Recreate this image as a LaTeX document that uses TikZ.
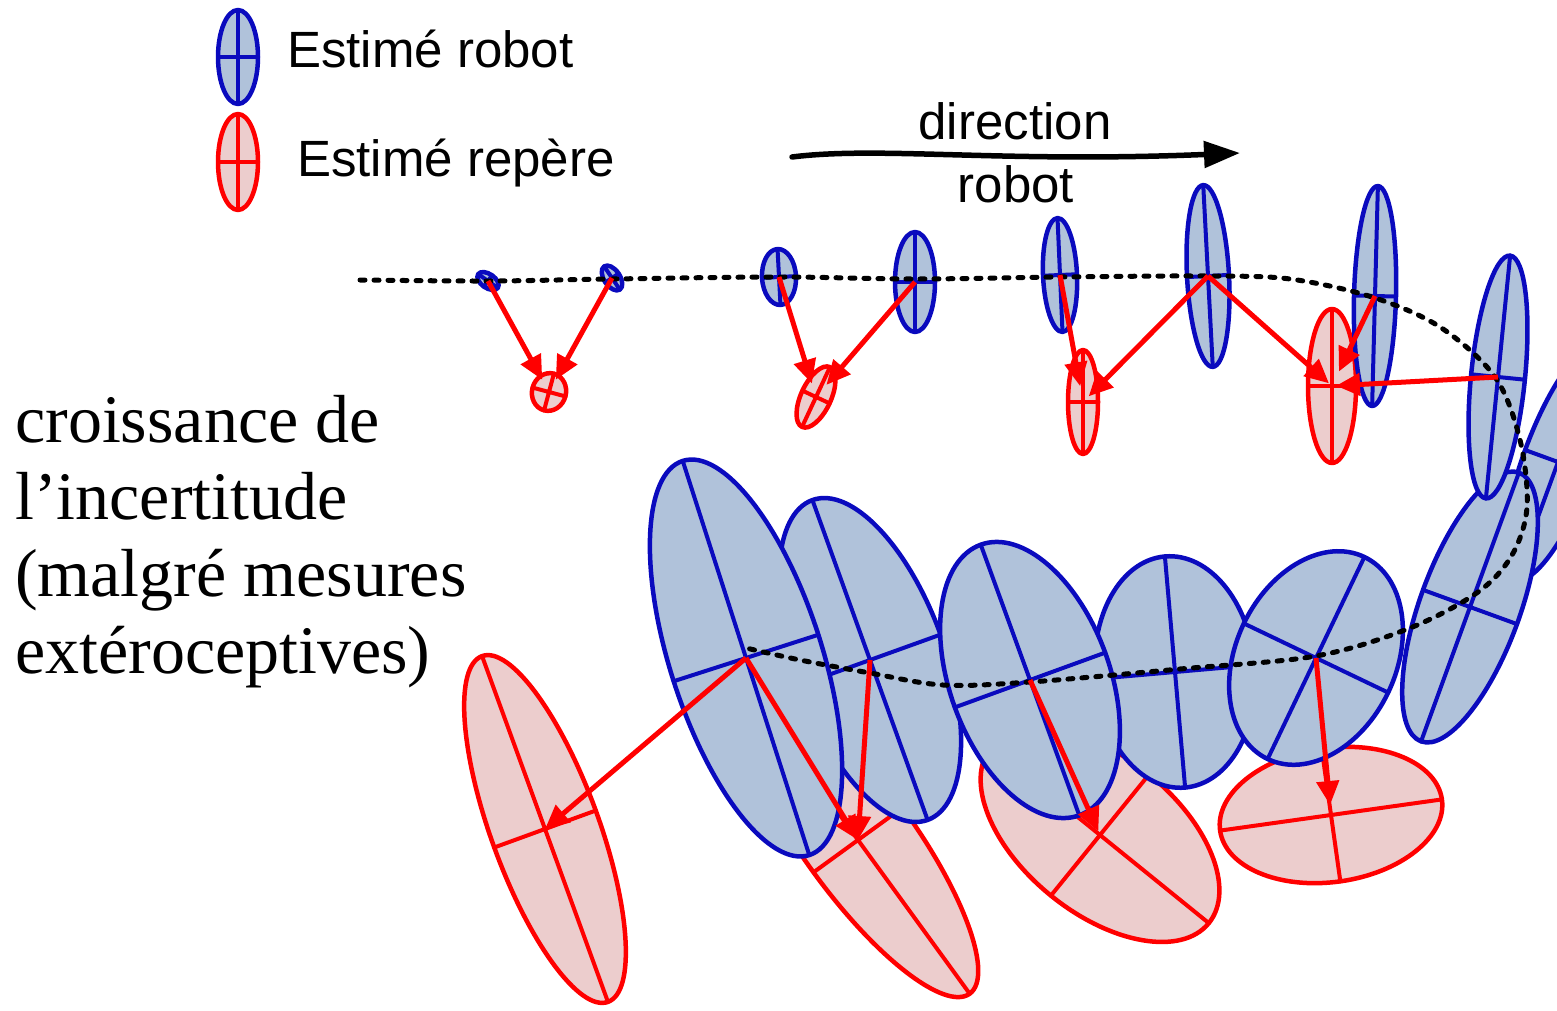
\documentclass[tikz,border=0pt]{standalone}
\usepackage{fontspec}
\setmainfont{Liberation Serif}
\newfontfamily\labelfont{Liberation Sans}
\usetikzlibrary{arrows.meta}

\definecolor{robline}{RGB}{10,10,190}
\definecolor{robfill}{RGB}{176,194,218}
\definecolor{repline}{RGB}{255,0,0}
\definecolor{repfill}{RGB}{236,205,205}

\begin{document}
\begin{tikzpicture}[x=1pt, y=1pt, line cap=round, line join=round,
    robot/.style={draw=robline, fill=robfill, line width=4.5pt},
    robot axis/.style={draw=robline, line width=4pt},
    repere/.style={draw=repline, fill=repfill, line width=4.5pt},
    repere axis/.style={draw=repline, line width=4pt},
    meas/.style={draw=red, line width=5pt, line cap=butt, -{Triangle[length=24pt, width=22pt]}},
    track/.style={draw=black, line width=5pt, dash pattern=on 5pt off 9pt},
    heading/.style={draw=black, line width=5.5pt, -{Triangle[length=36pt, width=26pt]}},
    legend/.style={font=\labelfont\fontsize{51}{60}\selectfont, inner sep=0pt},
    note/.style={font=\fontsize{68}{77}\selectfont, inner sep=0pt, anchor=base west}]
  \useasboundingbox (0,0) rectangle (1557,-1011);

  % landmark estimates (under everything else)
  \foreach \n/\cx/\cy/\rx/\ry/\rot in {legrep/238/162/20/48/0,
      rep1/549/392/17/19/-15, rep2/816/397/15/33/-25, rep3/1083/402/15/52/0,
      rep4/1332/386/24/77/0, rep5/1331/815/112/67/8, rep6/1100/835/140/78/-39,
      rep7/858/840/55/190/36, rep8/545/829/54/184/20}{
    \coordinate (\n) at (\cx,-\cy);
    \begin{scope}[shift={(\n)}, rotate=\rot]
      \draw[repere] (0,0) ellipse [x radius=\rx, y radius=\ry];
      \draw[repere axis] (-\rx,0) -- (\rx,0) (0,-\ry) -- (0,\ry);
    \end{scope}
  }

  % robot estimates along the track
  \foreach \n/\cx/\cy/\rx/\ry/\rot in {legrob/238/57/20/47/0,
      rob1/488/281/12/7/-35, rob2/612/278/8/14/34, rob3/779/277/17/28/3,
      rob4/915/282/20/50/0, rob5/1060/275/17/57/2.5, rob6/1208/276/21/91/3,
      rob7/1375/296/21/110/-1.5, rob9/1558/462/35/125/-20,
      rob10/1470/607/50/143/-20, rob8/1498/377/27/122/-5.7,
      rob14/870/660/75/170/19.8, rob12/1175/672/80/116/5,
      rob15/746/658/76/207/17.8, rob13/1030/680/80/144/20,
      rob11/1316/658/80/112/-25.6}{
    \coordinate (\n) at (\cx,-\cy);
    \begin{scope}[shift={(\n)}, rotate=\rot]
      \draw[robot] (0,0) ellipse [x radius=\rx, y radius=\ry];
      \draw[robot axis] (-\rx,0) -- (\rx,0) (0,-\ry) -- (0,\ry);
    \end{scope}
  }

  % travelled path
  \draw[track] plot[smooth, tension=0.55] coordinates {(360,-280) (490,-281)
    (612,-279) (780,-277) (915,-279) (1060,-277) (1208,-276) (1290,-279)
    (1372,-297) (1440,-327) (1495,-377) (1520,-440) (1527,-507) (1512,-555)
    (1478,-592) (1410,-628) (1316,-656) (1180,-669) (1030,-682) (943,-685)
    (870,-673) (800,-660) (746,-648)};

  % observations
  \draw[meas, shorten >=14pt] (rob1) -- (rep1);
  \draw[meas, shorten >=14pt] (rob2) -- (rep1);
  \draw[meas, shorten >=14pt] (rob3) -- (rep2);
  \draw[meas, shorten >=16pt] (rob4) -- (rep2);
  \draw[meas, shorten >=16pt] (rob5) -- (rep3);
  \draw[meas, shorten >=8pt] (rob6) -- (rep3);
  \draw[meas, shorten >=4pt] (rob6) -- (rep4);
  \draw[meas, shorten >=16pt] (rob7) -- (rep4);
  \draw[meas, shorten >=4pt] (rob8) -- (rep4);
  \draw[meas, shorten >=10pt] (rob11) -- (rep5);
  \draw[meas, shorten >=4pt] (rob13) -- (rep6);
  \draw[meas] (rob14) -- (rep7);
  \draw[meas] (rob15) -- (rep7);
  \draw[meas] (rob15) -- (rep8);

  % legend
  \node[legend, anchor=base west] (legrobtxt) at (287,-68) {Estimé robot};
  \node[legend, anchor=base west] (legreptxt) at (297,-177) {Estimé repère};

  % heading of the robot
  \coordinate (dirstart) at (792,-157);
  \coordinate (dirend) at (1240,-153);
  \draw[heading] (dirstart) .. controls (880,-146) and (1000,-163) .. (dirend);
  \node[legend, anchor=base] (dirtxt) at (1015,-140) {direction};
  \node[legend, anchor=base] (robtxt) at (1016,-203) {robot};

  \node[note] (growa) at (15,-442) {croissance de};
  \node[note] (growb) at (15,-519) {l’incertitude};
  \node[note] (growc) at (15,-596) {(malgré mesures};
  \node[note] (growd) at (15,-673) {extéroceptives)};
\end{tikzpicture}
\end{document}
